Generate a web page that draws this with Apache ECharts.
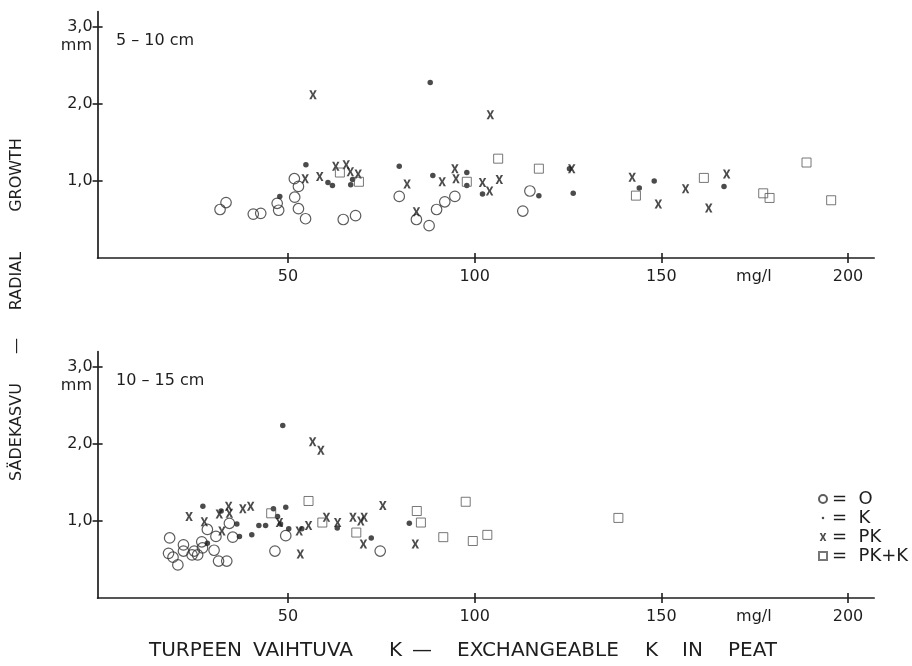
<!DOCTYPE html>
<html>
<head>
<meta charset="utf-8">
<script src="https://cdn.jsdelivr.net/npm/echarts@6/dist/echarts.min.js"></script>
<style>html,body{margin:0;padding:0;background:#fff}#c{width:912px;height:666px}</style>
</head>
<body>
<div id="c"></div>
<script>
// ---- data (x: exchangeable K mg/l, y: radial growth mm) ----
const top_O = [[31.8,0.63],[33.4,0.72],[40.7,0.57],[42.7,0.58],[47.1,0.71],[47.5,0.62],[51.7,1.03],[52.8,0.93],[51.8,0.79],[52.8,0.64],[54.7,0.51],[64.8,0.50],[68.1,0.55],[79.8,0.80],[84.4,0.50],[87.8,0.42],[89.8,0.63],[92.0,0.73],[94.7,0.80],[114.8,0.87],[112.9,0.61]];
const top_K = [[54.8,1.21],[47.8,0.80],[60.7,0.98],[61.9,0.94],[67.3,1.02],[66.8,0.95],[88.1,2.28],[79.8,1.19],[88.8,1.07],[97.9,1.11],[97.9,0.94],[102.1,0.83],[117.2,0.81],[125.4,1.16],[126.4,0.84],[144.1,0.91],[148.1,1.00],[166.8,0.93]];
const top_PK = [[56.7,2.12],[54.6,1.03],[58.5,1.06],[62.8,1.19],[65.6,1.21],[66.7,1.12],[68.8,1.09],[81.9,0.96],[84.4,0.60],[91.3,0.99],[94.7,1.16],[95.0,1.03],[102.1,0.98],[104.0,0.87],[106.6,1.02],[104.2,1.86],[126.0,1.16],[142.2,1.05],[149.2,0.70],[156.5,0.90],[162.7,0.65],[167.5,1.09]];
const top_PKK = [[63.9,1.11],[69.0,0.99],[97.9,0.99],[106.3,1.29],[117.2,1.16],[143.2,0.81],[161.4,1.04],[177.3,0.84],[179.0,0.78],[188.9,1.24],[195.5,0.75]];

const bot_O = [[18.3,0.78],[22.0,0.69],[22.0,0.61],[18.0,0.58],[19.2,0.53],[20.5,0.43],[24.3,0.56],[24.9,0.61],[25.8,0.56],[26.9,0.73],[27.1,0.65],[30.2,0.62],[30.7,0.80],[34.3,0.97],[35.2,0.79],[31.4,0.48],[33.6,0.48],[28.4,0.89],[49.4,0.81],[46.5,0.61],[74.7,0.61]];
const bot_K = [[27.2,1.19],[32.1,1.13],[36.3,0.96],[28.4,0.71],[37.0,0.80],[40.3,0.82],[42.2,0.94],[44.0,0.94],[46.1,1.16],[47.2,1.06],[49.4,1.18],[48.0,0.96],[50.2,0.90],[53.7,0.90],[63.2,0.91],[72.3,0.78],[82.5,0.97],[48.6,2.24]];
const bot_PK = [[23.5,1.06],[27.6,0.99],[31.6,1.09],[34.1,1.19],[34.3,1.10],[32.3,0.87],[37.9,1.16],[40.0,1.19],[47.7,0.98],[53.0,0.87],[55.5,0.94],[53.3,0.57],[56.6,2.03],[58.8,1.92],[60.3,1.05],[63.3,0.98],[67.4,1.05],[69.5,1.00],[70.4,1.05],[70.2,0.70],[75.4,1.20],[84.1,0.70]];
const bot_PKK = [[45.5,1.10],[55.5,1.26],[59.2,0.98],[68.3,0.85],[84.5,1.13],[85.6,0.98],[91.6,0.79],[97.6,1.25],[99.5,0.74],[103.4,0.82],[138.5,1.04]];

const xTicks = [50, 100, 150, 200];
const xUnitPos = 174.8;      // where the "mg/l" unit label sits on the axis
const xUnitLabel = 'mg/l';
const yTicks = [1, 2, 3];
const seriesNames = ['O', 'K', 'PK', 'PK+K'];
const panelLabels = ['5 – 10 cm', '10 – 15 cm'];
const yTitleWords = ['GROWTH', 'RADIAL', '—', 'SÄDEKASVU'];
const xTitleWords = ['TURPEEN', 'VAIHTUVA', 'K', '—', 'EXCHANGEABLE', 'K', 'IN', 'PEAT'];

// ---- styling / layout ----
const INK = '#1e1e1e';
const FONT = 'DejaVu Sans';
const X_PATH = 'path://M0,0 L3,0 L5,4.2 L7,0 L10,0 L6.6,6 L10,12 L7,12 L5,7.8 L3,12 L0,12 L3.4,6 Z';
const DOT_LEGEND = 'path://M0,0 M10,10 M5,3.4 A1.6,1.6 0 1,1 5,6.6 A1.6,1.6 0 1,1 5,3.4 Z';
const yTitleCenters = [175, 281, 346, 432];               // vertical centres of the rotated title words
const xTitleStarts = [149, 253, 389, 412, 457, 645, 682, 728]; // left edges of the title words

const grids = [
  {left: 97.6, right: 37.9, top: 11.6, height: 246.4},
  {left: 97.6, right: 37.9, top: 351.6, height: 246.4}
];

const xAxes = [], yAxes = [];
grids.forEach((g, gi) => {
  xAxes.push({
    gridIndex: gi, type: 'value', min: -1, max: 207, position: 'bottom',
    splitLine: {show: false},
    axisLine: {show: true, onZero: false, lineStyle: {color: INK, width: 1.7}},
    axisTick: {show: true, length: 5, customValues: xTicks, lineStyle: {color: INK, width: 1.6}},
    axisLabel: {show: true, customValues: xTicks.concat([xUnitPos]), margin: 11,
      formatter: v => (Math.abs(v - xUnitPos) < 0.01 ? xUnitLabel : String(v)),
      color: INK, fontFamily: FONT, fontSize: 16}
  });
  xAxes.push({
    gridIndex: gi, type: 'value', min: -1, max: 207, position: 'bottom',
    splitLine: {show: false}, axisLine: {show: false, onZero: false},
    axisTick: {show: true, inside: true, length: 5, customValues: xTicks, lineStyle: {color: INK, width: 1.6}},
    axisLabel: {show: false}
  });
  yAxes.push({
    gridIndex: gi, type: 'value', min: 0, max: 3.2, position: 'left',
    splitLine: {show: false},
    axisLine: {show: true, onZero: false, lineStyle: {color: INK, width: 1.7}},
    axisTick: {show: true, length: 5, customValues: yTicks, lineStyle: {color: INK, width: 1.6}},
    axisLabel: {show: true, customValues: yTicks, margin: 5,
      formatter: v => v.toFixed(1).replace('.', ','),
      color: INK, fontFamily: FONT, fontSize: 16}
  });
  yAxes.push({
    gridIndex: gi, type: 'value', min: 0, max: 3.2, position: 'left',
    splitLine: {show: false}, axisLine: {show: false, onZero: false},
    axisTick: {show: true, inside: true, length: 5, customValues: yTicks, lineStyle: {color: INK, width: 1.6}},
    axisLabel: {show: false}
  });
});

function makeSeries(gi, data) {
  const base = {type: 'scatter', xAxisIndex: gi * 2, yAxisIndex: gi * 2, silent: true, z: 3};
  return [
    Object.assign({}, base, {name: seriesNames[0], data: data[0], symbol: 'circle', symbolSize: 10.5,
      itemStyle: {color: 'rgba(255,255,255,0)', borderColor: '#333', borderWidth: 1.2}}),
    Object.assign({}, base, {name: seriesNames[1], data: data[1], symbol: 'circle', symbolSize: 5.5,
      itemStyle: {color: INK}}),
    Object.assign({}, base, {name: seriesNames[2], data: data[2], symbol: X_PATH, symbolSize: [7.5, 9],
      itemStyle: {color: INK}}),
    Object.assign({}, base, {name: seriesNames[3], data: data[3], symbol: 'rect', symbolSize: 9,
      itemStyle: {color: 'rgba(255,255,255,0)', borderColor: '#555', borderWidth: 1}})
  ];
}

const series = makeSeries(0, [top_O, top_K, top_PK, top_PKK])
  .concat(makeSeries(1, [bot_O, bot_K, bot_PK, bot_PKK]));

const titleStyle = {color: INK, fontFamily: FONT, fontSize: 16, fontWeight: 'normal'};

const graphics = [];
yTitleWords.forEach((w, i) => graphics.push({
  type: 'text', x: 17, y: yTitleCenters[i], rotation: Math.PI / 2,
  style: {text: w, fill: INK, font: '16px "DejaVu Sans"', align: 'center', verticalAlign: 'middle'}
}));
xTitleWords.forEach((w, i) => graphics.push({
  type: 'text', x: xTitleStarts[i], y: 651,
  style: {text: w, fill: INK, font: '20px "DejaVu Sans"', align: 'left', verticalAlign: 'middle'}
}));

const option = {
  backgroundColor: '#fff',
  animation: false,
  grid: grids,
  xAxis: xAxes,
  yAxis: yAxes,
  series: series,
  title: [
    {text: panelLabels[0], left: 116, top: 33, textStyle: titleStyle, padding: 0},
    {text: panelLabels[1], left: 116, top: 373, textStyle: titleStyle, padding: 0},
    {text: 'mm', right: 820, top: 38, textStyle: titleStyle, padding: 0},
    {text: 'mm', right: 820, top: 378, textStyle: titleStyle, padding: 0}
  ],
  legend: {
    orient: 'vertical', left: 813, top: 485, itemWidth: 8, itemHeight: 8, itemGap: 1,
    selectedMode: false,
    textStyle: {color: INK, fontFamily: FONT, fontSize: 18, lineHeight: 18},
    formatter: n => '=  ' + n,
    data: [
      {name: seriesNames[0], icon: 'circle'},
      {name: seriesNames[1], icon: DOT_LEGEND},
      {name: seriesNames[2], icon: X_PATH},
      {name: seriesNames[3], icon: 'rect'}
    ]
  },
  graphic: graphics
};

const chart = echarts.init(document.getElementById('c'), null, {renderer: 'canvas'});
chart.setOption(option);
</script>
</body>
</html>
